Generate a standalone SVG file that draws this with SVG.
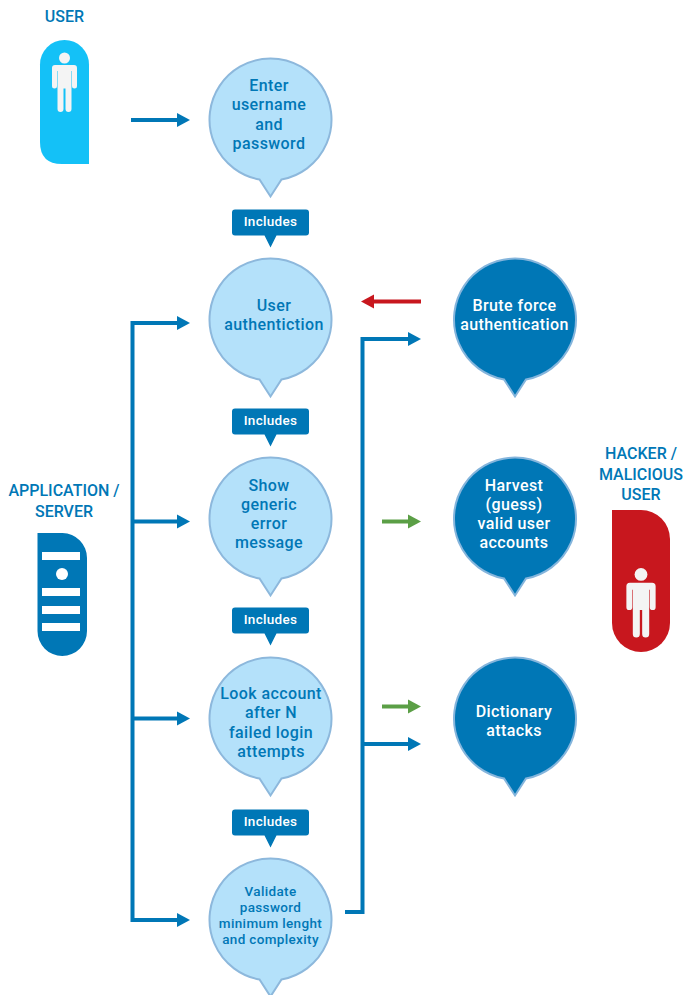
<svg xmlns="http://www.w3.org/2000/svg" width="683" height="995" viewBox="0 0 683 995">
<style>
text{font-family:Roboto,"Noto Sans","Liberation Sans",sans-serif;font-weight:500;text-anchor:middle}
.t{font-size:16px;letter-spacing:.4px;fill:#0077b6}
.s{font-size:13.500px;letter-spacing:.35px;fill:#0077b6}
.w{font-size:16px;letter-spacing:.4px;fill:#fff}
.i{font-size:13.500px;letter-spacing:.3px;fill:#fff}
.l{font-size:16px;fill:#0077b6}
.bl{fill:#b4e1fa;stroke:#8db8dc;stroke-width:2}
.bd{fill:#0077b6;stroke:#85b5dc;stroke-width:2}
.c{fill:none;stroke-width:4}
.b{stroke:#0077b6}.r{stroke:#c8171e}.g{stroke:#5b9f46}
.p{fill:#f4f4f4}
</style>
<defs>
<path id="bubble" d="M-11,60A61,61 0 1 1 11,60L0,77Z"/>
<path id="tag" d="M-35.500,0H35.500Q38.500,0 38.500,3V23Q38.500,26 35.500,26H6L0,38L-6,26H-35.500Q-38.500,26 -38.500,23V3Q-38.500,0 -35.500,0Z" fill="#0077b6"/>
<g id="person" class="p">
<circle cx="0" cy="5.500" r="5.500"/>
<path d="M-9.500,12.500H9.500Q12.500,12.500 12.500,15.500V33.500A2.500,2.500 0 0 1 7.500,33.500V18.500H7V56.500A3,3 0 0 1 1,56.500V36H-1V56.500A3,3 0 0 1 -7,56.500V18.500H-7.500V33.500A2.500,2.500 0 0 1 -12.500,33.500V15.500Q-12.500,12.500 -9.500,12.500Z"/>
</g>
<marker id="ab" markerUnits="userSpaceOnUse" markerWidth="14" markerHeight="16" refX="0" refY="7.500" orient="auto"><path d="M0,0.500L13,7.500L0,14.500Z" fill="#0077b6"/></marker>
<marker id="ar" markerUnits="userSpaceOnUse" markerWidth="14" markerHeight="16" refX="0" refY="7.500" orient="auto"><path d="M0,0.500L13,7.500L0,14.500Z" fill="#c8171e"/></marker>
<marker id="ag" markerUnits="userSpaceOnUse" markerWidth="14" markerHeight="16" refX="0" refY="7.500" orient="auto"><path d="M0,0.500L13,7.500L0,14.500Z" fill="#5b9f46"/></marker>
</defs>
<g id="connectors">
<path class="c b" d="M131,120H177" marker-end="url(#ab)"/>
<path class="c b" d="M132.500,323H177" marker-end="url(#ab)"/>
<path class="c b" d="M132.500,321V920H177" marker-end="url(#ab)"/>
<path class="c b" d="M132.500,521.500H177" marker-end="url(#ab)"/>
<path class="c b" d="M132.500,718.500H177" marker-end="url(#ab)"/>
<path class="c b" d="M345,912H362.500V339H408" marker-end="url(#ab)"/>
<path class="c b" d="M362.500,744H408" marker-end="url(#ab)"/>
<path class="c r" d="M421,301.500H374" marker-end="url(#ar)"/>
<path class="c g" d="M382,521.500H408" marker-end="url(#ag)"/>
<path class="c g" d="M382,706.500H408" marker-end="url(#ag)"/>
</g>
<g id="user">
<text class="l" x="64.500" y="22">USER</text>
<path d="M40,64.500A24.500,24.500 0 0 1 89,64.500V164H62Q40,164 40,142Z" fill="#14c1f7"/>
<use href="#person" x="64.500" y="52.500"/>
</g>
<g id="server">
<text class="l" x="64" y="496">APPLICATION /</text>
<text class="l" x="64" y="516.500">SERVER</text>
<path d="M37.500,533H62.500A25,25 0 0 1 87,558V631A24.750,25 0 0 1 37.500,631Z" fill="#0077b6"/>
<g fill="#fff">
<rect x="42" y="552" width="38" height="8"/>
<circle cx="62" cy="574" r="6"/>
<rect x="42" y="588" width="38" height="8"/>
<rect x="42" y="606" width="38" height="8"/>
<rect x="42" y="623" width="38" height="8"/>
</g>
</g>
<g id="hacker">
<text class="l" x="641" y="459">HACKER /</text>
<text class="l" x="641" y="480">MALICIOUS</text>
<text class="l" x="641" y="500">USER</text>
<path d="M612,510H641A29,29 0 0 1 670,539V623A29,29 0 0 1 612,623Z" fill="#c8171e"/>
<use href="#person" transform="translate(641,568) scale(1.17)"/>
</g>
<g id="enter">
<use href="#bubble" class="bl" x="270.500" y="119.500"/>
<text class="t" x="269" y="91">Enter</text>
<text class="t" x="269" y="110">username</text>
<text class="t" x="269" y="130">and</text>
<text class="t" x="269" y="149">password</text>
</g>
<g id="includes1"><use href="#tag" x="270.500" y="209.500"/><text class="i" x="270.500" y="226">Includes</text></g>
<g id="auth">
<use href="#bubble" class="bl" x="270.500" y="319.500"/>
<text class="t" x="274" y="311">User</text>
<text class="t" x="274" y="330">authentiction</text>
</g>
<g id="includes2"><use href="#tag" x="270.500" y="408.500"/><text class="i" x="270.500" y="425">Includes</text></g>
<g id="error">
<use href="#bubble" class="bl" x="270.500" y="518.500"/>
<text class="t" x="269" y="491">Show</text>
<text class="t" x="269" y="510">generic</text>
<text class="t" x="269" y="529">error</text>
<text class="t" x="269" y="548">message</text>
</g>
<g id="includes3"><use href="#tag" x="270.500" y="607.500"/><text class="i" x="270.500" y="624">Includes</text></g>
<g id="lock">
<use href="#bubble" class="bl" x="270.500" y="718.500"/>
<text class="t" x="271" y="699">Look account</text>
<text class="t" x="271" y="718">after N</text>
<text class="t" x="271" y="738">failed login</text>
<text class="t" x="271" y="757">attempts</text>
</g>
<g id="includes4"><use href="#tag" x="270.500" y="809.500"/><text class="i" x="270.500" y="826">Includes</text></g>
<g id="validate">
<use href="#bubble" class="bl" x="270.500" y="919.500"/>
<text class="s" x="270.500" y="896">Validate</text>
<text class="s" x="270.500" y="912">password</text>
<text class="s" x="270.500" y="928">minimum lenght</text>
<text class="s" x="270.500" y="944">and complexity</text>
</g>
<g id="brute">
<use href="#bubble" class="bd" x="515" y="319.500"/>
<text class="w" x="514.500" y="311">Brute force</text>
<text class="w" x="514.500" y="330">authentication</text>
</g>
<g id="harvest">
<use href="#bubble" class="bd" x="515" y="518.500"/>
<text class="w" x="514" y="491">Harvest</text>
<text class="w" x="514" y="510">(guess)</text>
<text class="w" x="514" y="529">valid user</text>
<text class="w" x="514" y="548">accounts</text>
</g>
<g id="dictionary">
<use href="#bubble" class="bd" x="515" y="718.500"/>
<text class="w" x="514" y="717">Dictionary</text>
<text class="w" x="514" y="736">attacks</text>
</g>
</svg>
